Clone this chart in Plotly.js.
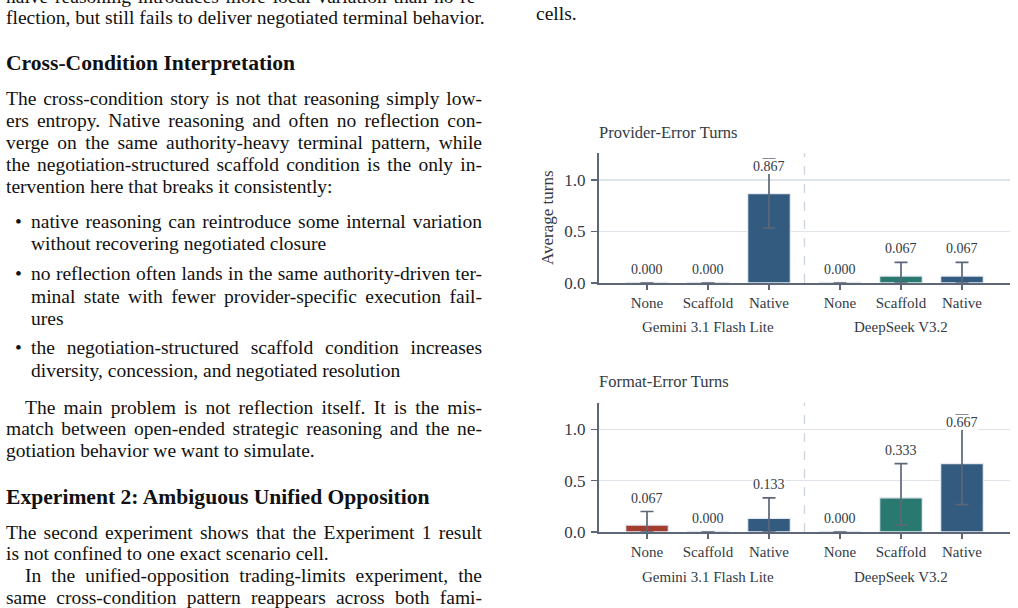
<!DOCTYPE html>
<html><head><meta charset="utf-8">
<script src="https://cdn.plot.ly/plotly-3.0.1.min.js"></script>
<style>html,body{margin:0;padding:0;background:#fff;} #chart{width:1018px;height:608px;}</style>
</head><body><div id="chart"></div>
<script>
// ---------------- data ----------------
const conditions = ['None', 'Scaffold', 'Native'];
const models = ['Gemini 3.1 Flash Lite', 'DeepSeek V3.2'];
const panelTitles = ['Provider-Error Turns', 'Format-Error Turns'];
// order: Gemini (None, Scaffold, Native), DeepSeek (None, Scaffold, Native)
const providerMean = [0.000, 0.000, 0.867, 0.000, 0.067, 0.067];
const providerLow  = [0.000, 0.000, 0.533, 0.000, 0.000, 0.000];
const providerHigh = [0.000, 0.000, 1.200, 0.000, 0.200, 0.200];
const formatMean = [0.067, 0.000, 0.133, 0.000, 0.333, 0.667];
const formatLow  = [0.000, 0.000, 0.000, 0.000, 0.067, 0.267];
const formatHigh = [0.200, 0.000, 0.333, 0.000, 0.667, 1.140];
const yTickVals = [0, 0.5, 1.0];
const yAxisTitle = 'Average turns';

// ---------------- page text ----------------
const bodyLines = [
  'naive reasoning introduces more local variation than no re-',
  'flection, but still fails to deliver negotiated terminal behavior.',
  'Cross-Condition Interpretation',
  'The cross-condition story is not that reasoning simply low-',
  'ers entropy. Native reasoning and often no reflection con-',
  'verge on the same authority-heavy terminal pattern, while',
  'the negotiation-structured scaffold condition is the only in-',
  'tervention here that breaks it consistently:',
  'native reasoning can reintroduce some internal variation',
  'without recovering negotiated closure',
  'no reflection often lands in the same authority-driven ter-',
  'minal state with fewer provider-specific execution fail-',
  'ures',
  'the negotiation-structured scaffold condition increases',
  'diversity, concession, and negotiated resolution',
  'The main problem is not reflection itself. It is the mis-',
  'match between open-ended strategic reasoning and the ne-',
  'gotiation behavior we want to simulate.',
  'Experiment 2: Ambiguous Unified Opposition',
  'The second experiment shows that the Experiment 1 result',
  'is not confined to one exact scenario cell.',
  'In the unified-opposition trading-limits experiment, the',
  'same cross-condition pattern reappears across both fami-'
];
const rightColumnLines = ['cells.'];

// layout of the text lines: [left px, center y px, style, justify, bullet]
const lineLayout = [
  [7, -4, 'b', 1, 0], [7, 18, 'b', 0, 0], [7, 63, 'h', 0, 0],
  [7, 98, 'b', 1, 0], [7, 120, 'b', 1, 0], [7, 142, 'b', 1, 0], [7, 164, 'b', 1, 0], [7, 186, 'b', 0, 0],
  [32, 221, 'b', 1, 1], [32, 243, 'b', 0, 0],
  [32, 274, 'b', 1, 1], [32, 296, 'b', 1, 0], [32, 318, 'b', 0, 0],
  [32, 348, 'b', 1, 1], [32, 370, 'b', 0, 0],
  [26, 407, 'b', 1, 0], [7, 428, 'b', 1, 0], [7, 450, 'b', 0, 0],
  [7, 497, 'h', 0, 0],
  [7, 532, 'b', 1, 0], [7, 553, 'b', 0, 0],
  [26, 575, 'b', 1, 0], [7, 597, 'b', 1, 0]
];
const rightLayout = [[537, 13]];

// ---------------- style ----------------
const W = 1018, H = 608;
const SERIF = '"Liberation Serif", "Times New Roman", "DejaVu Serif", serif';
const condColors = {None: '#a23d30', Scaffold: '#2a7970', Native: '#325b7f'};
const axisCol = '#5d6778';
const gridCol = '#dfe4eb';
const textCol = '#333a45';
const groupGap = 0.164, barWidth = 0.7;
const ymax = 1.26;
const xdom = [599 / W, 1010 / W];
const panelPx = [[153, 283], [402.7, 532]];
const titlePx = [132.7, 381.7];
const groupLabelPx = [327, 576.7];
const justifyRight = 482;
const textNudge = -1.5;

const px2y = p => 1 - p / H;
const px2x = p => p / W;

// positions of bars
const xs = [], tickText = [];
models.forEach((m, j) => conditions.forEach((c, i) => { xs.push(j * (conditions.length + groupGap) + i); tickText.push(c); }));
const barColors = tickText.map(c => condColors[c]);
const xRange = [xs[0] - 0.787, xs[xs.length - 1] + 0.787];

const panels = [
  {mean: providerMean, low: providerLow, high: providerHigh},
  {mean: formatMean, low: formatLow, high: formatHigh}
];

const traces = [];
const annotations = [];
const shapes = [];
const layout = {
  width: W, height: H, margin: {l: 0, r: 0, t: 0, b: 0},
  paper_bgcolor: '#ffffff', plot_bgcolor: 'rgba(0,0,0,0)',
  showlegend: false, bargap: 0, font: {family: SERIF, color: textCol},
  annotations: annotations, shapes: shapes
};

panels.forEach((p, k) => {
  const xa = k === 0 ? 'x' : 'x2', ya = k === 0 ? 'y' : 'y2';
  const xaKey = k === 0 ? 'xaxis' : 'xaxis2', yaKey = k === 0 ? 'yaxis' : 'yaxis2';
  traces.push({
    type: 'bar', x: xs, y: p.mean, xaxis: xa, yaxis: ya, width: barWidth,
    marker: {color: barColors, line: {color: '#e6eaf0', width: 1.3}},
    hoverinfo: 'skip'
  });
  const cx = [], cy = [];
  p.mean.forEach((v, i) => { if (v === 0) { cx.push(xs[i] - barWidth / 2, xs[i] + barWidth / 2, null); cy.push(0, 0, null); } });
  traces.push({type: 'scatter', mode: 'lines', x: cx, y: cy, xaxis: xa, yaxis: ya,
    line: {color: '#e3e7ee', width: 2.6}, hoverinfo: 'skip', connectgaps: false});
  traces.push({
    type: 'scatter', mode: 'markers', x: xs, y: p.mean, xaxis: xa, yaxis: ya,
    marker: {size: 1, color: 'rgba(0,0,0,0)'}, hoverinfo: 'skip',
    error_y: {type: 'data', symmetric: false,
      array: p.high.map((h, i) => h - p.mean[i]),
      arrayminus: p.low.map((l, i) => p.mean[i] - l),
      color: axisCol, thickness: 1.7, width: 6.5}
  });
  layout[xaKey] = {
    domain: xdom, anchor: ya, range: xRange, showgrid: false, zeroline: false,
    showline: true, linecolor: axisCol, linewidth: 2, layer: 'below traces',
    ticks: 'outside', ticklen: 5, tickwidth: 1.6, tickcolor: axisCol,
    tickvals: xs, ticktext: tickText, ticklabelstandoff: 0,
    tickfont: {family: SERIF, size: 15, color: textCol}, fixedrange: true
  };
  layout[yaKey] = {
    domain: [px2y(panelPx[k][1]), px2y(panelPx[k][0])], anchor: xa, range: [0, ymax],
    showgrid: true, gridcolor: gridCol, gridwidth: 1.4, zeroline: false,
    showline: true, linecolor: axisCol, linewidth: 2, layer: 'below traces',
    ticks: 'outside', ticklen: 6, tickwidth: 1.6, tickcolor: axisCol,
    tickvals: yTickVals, tickformat: '.1f', ticklabelstandoff: 2,
    tickfont: {family: SERIF, size: 17, color: textCol}, fixedrange: true
  };
  const sepX = (xs[conditions.length - 1] + xs[conditions.length]) / 2;
  shapes.push({type: 'line', xref: xa, yref: ya + ' domain', x0: sepX, x1: sepX, y0: 0, y1: 1,
    line: {color: '#cfd5df', width: 1.4, dash: 'dash'}, layer: 'below'});
  p.mean.forEach((v, i) => {
    const top = Math.max(p.high[i], v);
    const ly = (top + 0.13 <= ymax - 0.1) ? top + 0.13 : top - 0.075;
    annotations.push({xref: xa, yref: ya, x: xs[i], y: ly, text: v.toFixed(3), showarrow: false,
      xanchor: 'center', yanchor: 'middle', bgcolor: '#ffffff', borderpad: 0, borderwidth: 0,
      font: {family: SERIF, size: 14, color: textCol}});
  });
  models.forEach((m, j) => {
    const gx = (xs[j * conditions.length] + xs[j * conditions.length + conditions.length - 1]) / 2;
    annotations.push({xref: xa, yref: 'paper', x: gx, y: px2y(groupLabelPx[k]), text: m, showarrow: false,
      xanchor: 'center', yanchor: 'middle', font: {family: SERIF, size: 15, color: textCol}});
  });
  annotations.push({xref: 'paper', yref: 'paper', x: xdom[0], y: px2y(titlePx[k]), text: panelTitles[k],
    showarrow: false, xanchor: 'left', yanchor: 'middle', borderpad: 0, borderwidth: 0,
    font: {family: SERIF, size: 16.5, color: textCol}});
});

annotations.push({xref: 'paper', yref: 'paper', x: px2x(547), y: px2y(218), text: yAxisTitle, textangle: -90,
  showarrow: false, xanchor: 'center', yanchor: 'middle', font: {family: SERIF, size: 17, color: textCol}});

// page text
const justifyIdx = [];
bodyLines.forEach((t, i) => {
  const [lx, ly, st, just, bullet] = lineLayout[i];
  if (bullet) {
    annotations.push({xref: 'paper', yref: 'paper', x: px2x(18), y: px2y(ly), text: '•', showarrow: false,
      xanchor: 'center', yanchor: 'middle', borderpad: 0, borderwidth: 0,
      font: {family: SERIF, size: 19.5, color: '#111111'}});
  }
  const txt = st === 'h' ? '<b>' + t + '</b>' : t;
  if (just) justifyIdx.push(annotations.length);
  annotations.push({xref: 'paper', yref: 'paper', x: px2x(lx + textNudge), y: px2y(ly), text: txt, showarrow: false,
    xanchor: 'left', yanchor: 'middle', borderpad: 0, borderwidth: 0,
    font: {family: SERIF, size: st === 'h' ? 21.6 : 19.5, color: '#111111'}});
});
rightColumnLines.forEach((t, i) => {
  annotations.push({xref: 'paper', yref: 'paper', x: px2x(rightLayout[i][0] + textNudge), y: px2y(rightLayout[i][1]), text: t,
    showarrow: false, xanchor: 'left', yanchor: 'middle', borderpad: 0, borderwidth: 0,
    font: {family: SERIF, size: 19.5, color: '#111111'}});
});

Plotly.newPlot('chart', traces, layout, {displayModeBar: false, staticPlot: true}).then(gd => {
  const host = gd.getBoundingClientRect();
  justifyIdx.forEach(idx => {
    const g = gd.querySelector('.annotation[data-index="' + idx + '"]');
    if (!g) return;
    const t = g.querySelector('text.annotation-text');
    if (!t) return;
    // pin the left edge, then widen the word gaps to fill the column
    const bb = t.getBBox();
    t.setAttribute('text-anchor', 'start');
    t.setAttribute('x', bb.x);
    t.querySelectorAll('tspan[x]').forEach(s => s.setAttribute('x', bb.x));
    const r = t.getBoundingClientRect();
    const leftPx = r.left - host.left;
    const w = t.getComputedTextLength();
    const n = (t.textContent.match(/ /g) || []).length;
    if (n > 0) t.style.wordSpacing = ((justifyRight - leftPx - w) / n) + 'px';
  });
});
</script>
</body></html>
